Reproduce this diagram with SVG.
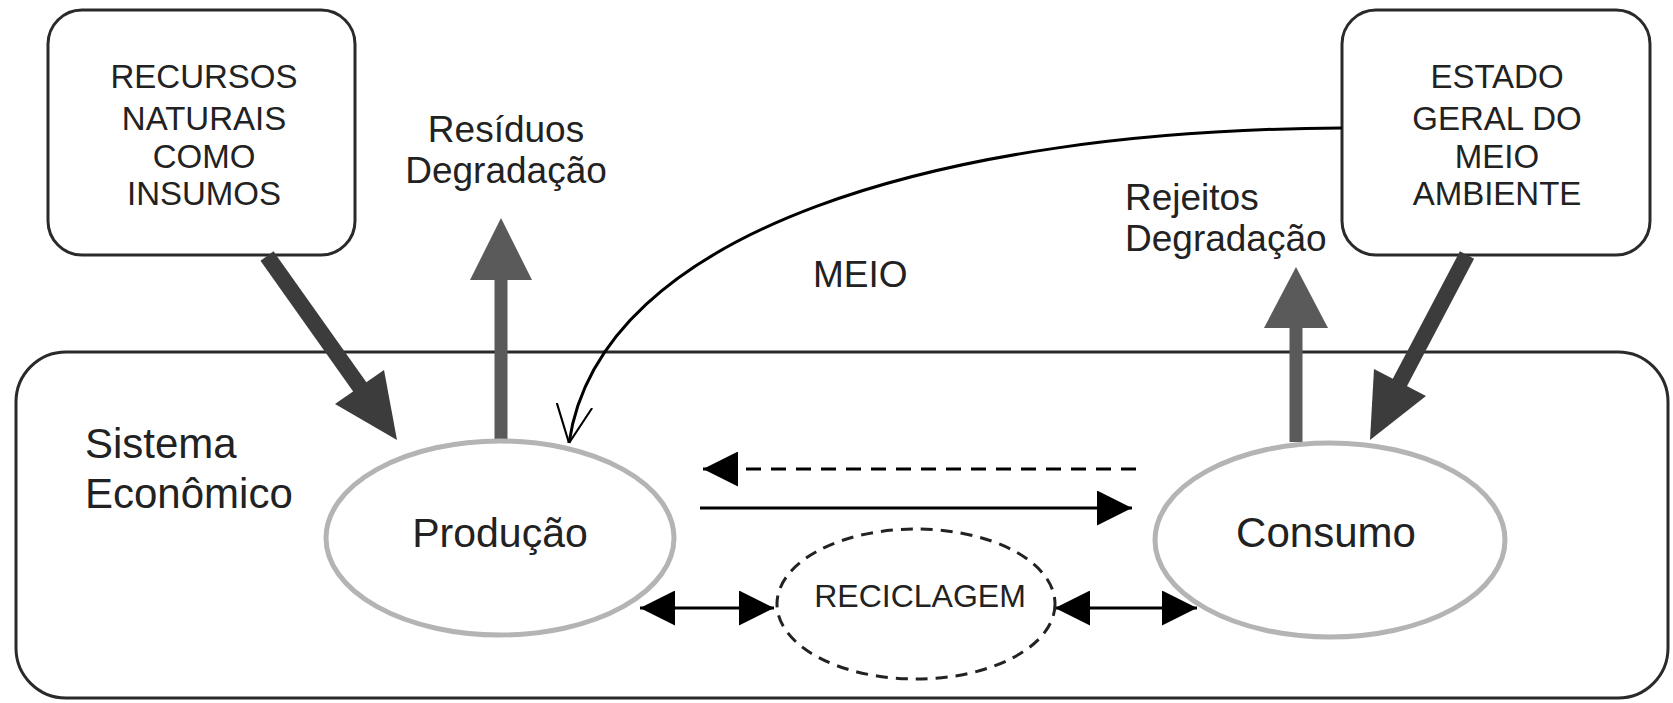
<svg xmlns="http://www.w3.org/2000/svg" width="1673" height="703" viewBox="0 0 1673 703">
<defs>
<style>
.box{fill:#fff;stroke:#2a2a2a;stroke-width:3}
.t{font-family:"Liberation Sans",Arial,sans-serif;fill:#222;text-anchor:middle}
.s{text-anchor:start}
.cap{font-size:33px}
.lbl{font-size:37px}
.ell{fill:#fff;stroke:#b4b4b4;stroke-width:5}
.thin{stroke:#000;stroke-width:3;fill:none}
.dark{stroke:#3c3c3c;stroke-width:16;fill:none}
.grey{stroke:#5a5a5a;stroke-width:13;fill:none}
</style>
<marker id="tri" viewBox="0 0 10 10" refX="10" refY="5" markerWidth="35" markerHeight="35" markerUnits="userSpaceOnUse" orient="auto-start-reverse"><path d="M0,0 L10,5 L0,10 z" fill="#000"/></marker>
<marker id="open" viewBox="0 0 10 10" refX="10" refY="5" markerWidth="38" markerHeight="38" markerUnits="userSpaceOnUse" orient="auto"><path d="M0,0.3 L10,5 L0,9.7" fill="none" stroke="#000" stroke-width="0.55"/></marker>
</defs>
<rect width="1673" height="703" fill="#fff"/>
<g id="sistema">
<rect class="box" x="16" y="352" width="1652" height="346" rx="50"/>
<text class="t s" x="85" y="458" style="font-size:42px">Sistema</text>
<text class="t s" x="85" y="508" style="font-size:42px">Econômico</text>
</g>
<g id="recursos">
<rect class="box" x="48" y="10" width="307" height="245" rx="34"/>
<text class="t cap" x="204" y="88">RECURSOS</text>
<text class="t cap" x="204" y="130">NATURAIS</text>
<text class="t cap" x="204" y="168">COMO</text>
<text class="t cap" x="204" y="205">INSUMOS</text>
</g>
<g id="estado">
<rect class="box" x="1342" y="10" width="308" height="245" rx="34"/>
<text class="t cap" x="1497" y="88">ESTADO</text>
<text class="t cap" x="1497" y="130">GERAL DO</text>
<text class="t cap" x="1497" y="168">MEIO</text>
<text class="t cap" x="1497" y="205">AMBIENTE</text>
</g>
<g id="labels">
<text class="t lbl" x="506" y="142">Resíduos</text>
<text class="t lbl" x="506" y="183">Degradação</text>
<text class="t lbl s" x="1125" y="210">Rejeitos</text>
<text class="t lbl s" x="1125" y="251">Degradação</text>
<text class="t lbl s" x="813" y="287">MEIO</text>
</g>
<g id="connectors">
<path class="dark" d="M267,256 L362,390"/>
<path d="M335,404 L397,440 L384,370 z" fill="#3c3c3c"/>
<path class="grey" d="M501,442 L501,276"/>
<path d="M470,280 L501,218 L532,280 z" fill="#5a5a5a"/>
<path class="grey" d="M1296,442 L1296,324"/>
<path d="M1264,328 L1296,267 L1328,328 z" fill="#5a5a5a"/>
<path class="dark" d="M1467,255 L1398,386"/>
<path d="M1426,396 L1370,440 L1374,369 z" fill="#3c3c3c"/>
<path d="M1342,128 C940,130 600,230 569,443" class="thin" stroke-width="2.5" marker-end="url(#open)"/>
<line x1="1136" y1="469" x2="703" y2="469" class="thin" stroke-dasharray="15,10" marker-end="url(#tri)"/>
<line x1="700" y1="508" x2="1132" y2="508" class="thin" marker-end="url(#tri)"/>
<line x1="640" y1="608" x2="774" y2="608" class="thin" marker-start="url(#tri)" marker-end="url(#tri)"/>
<line x1="1055" y1="608" x2="1197" y2="608" class="thin" marker-start="url(#tri)" marker-end="url(#tri)"/>
</g>
<g id="producao">
<ellipse class="ell" cx="500" cy="538" rx="174" ry="97"/>
<text class="t" x="500" y="547" style="font-size:41px">Produção</text>
</g>
<g id="consumo">
<ellipse class="ell" cx="1330" cy="540" rx="175" ry="97"/>
<text class="t" x="1326" y="547" style="font-size:42px">Consumo</text>
</g>
<g id="reciclagem">
<ellipse cx="916" cy="604" rx="139" ry="75" fill="#fff" stroke="#222" stroke-width="3" stroke-dasharray="12,8"/>
<text class="t" x="920" y="607" style="font-size:32px">RECICLAGEM</text>
</g>
</svg>
